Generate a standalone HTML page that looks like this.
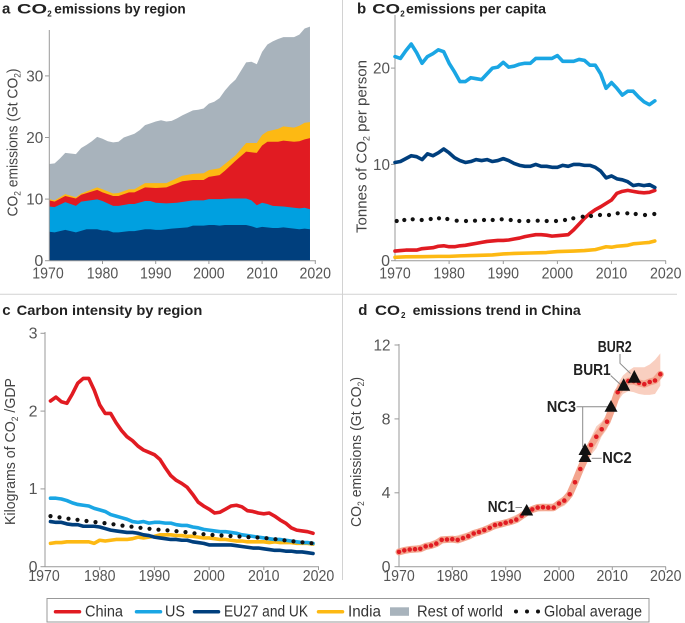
<!DOCTYPE html>
<html><head><meta charset="utf-8"><style>
html,body{margin:0;padding:0;background:#fff;}
svg{display:block;font-family:"Liberation Sans",sans-serif;}
.tk{font-size:16px;fill:#555;}
.ttl{font-size:14px;font-weight:bold;fill:#222;}
.yl{font-size:15px;fill:#444;}
.lg{font-size:15.5px;fill:#333;}
.ann{font-size:15.5px;font-weight:bold;fill:#222;}
</style></head><body>
<svg width="685" height="623" viewBox="0 0 685 623" xmlns="http://www.w3.org/2000/svg">
<rect width="685" height="623" fill="#fff"/>
<!-- separators -->
<line x1="342.5" y1="0" x2="342.5" y2="580" stroke="#d2d2d2" stroke-width="1"/>
<line x1="0" y1="294.3" x2="677" y2="294.3" stroke="#d2d2d2" stroke-width="1"/>

<!-- ===== Panel a ===== -->
<text class="ttl" x="2" y="13.5" style="font-size:15px">a</text>
<text class="ttl" x="17" y="13.5" textLength="30" lengthAdjust="spacingAndGlyphs">CO</text>
<text class="ttl" x="47.3" y="16.5" style="font-size:8px">2</text>
<text class="ttl" x="54.3" y="13.5" textLength="131.4" lengthAdjust="spacingAndGlyphs">emissions by region</text>

<g transform="translate(49.3 260.7) scale(5.32 -6.16)">
<path fill="#a8b3bc" d="M0,0 L0,15.7 1,15.8 2,16.6 3,17.5 4,17.4 5,17.3 6,18.3 7,18.8 8,19.4 9,20.1 10,19.8 11,19.4 12,19.2 13,19.3 14,20.0 15,20.3 16,20.6 17,21.2 18,22.0 19,22.3 20,22.6 21,22.8 22,22.6 23,22.7 24,23.1 25,23.6 26,24.0 27,24.4 28,24.5 29,24.7 30,25.5 31,25.8 32,26.4 33,27.6 34,28.6 35,29.4 36,30.8 37,32.2 38,32.3 39,31.9 40,33.9 41,35.1 42,35.6 43,36.0 44,36.3 45,36.3 46,36.3 47,36.7 48,37.7 49,38.0 L49,0 Z"/>
<path fill="#fdb913" d="M0,0 L0,10.0 1,9.8 3,10.8 5,10.3 6,10.9 9,11.9 10,11.6 12,10.9 13,11.0 15,11.6 16,11.6 18,12.6 20,12.6 22,12.6 25,13.8 27,14.1 29,14.2 30,14.7 32,15.0 33,15.7 35,17.1 37,19.1 39,19.1 40,20.4 41,21.0 43,21.4 44,21.8 46,21.6 47,21.9 48,22.4 49,22.5 L49,0 Z"/>
<path fill="#e11b22" d="M0,0 L0,9.8 1,9.6 3,10.5 5,10.1 6,10.7 9,11.5 10,11.1 12,10.5 13,10.5 15,11.1 16,11.1 18,11.9 20,11.8 22,11.9 25,12.9 27,13.1 29,13.1 30,13.6 32,13.9 33,14.6 35,16.2 37,17.7 39,17.5 40,18.7 41,19.3 43,19.3 44,19.5 46,19.3 47,19.4 48,19.7 49,19.9 L49,0 Z"/>
<path fill="#00a0e0" d="M0,0 L0,8.8 1,8.7 3,9.5 5,8.9 6,9.6 9,9.95 10,9.7 12,8.9 13,8.9 15,9.2 16,9.2 18,9.7 19,9.7 20,9.4 22,9.3 24,9.4 27,9.8 29,9.8 30,10.0 32,10.0 34,10.1 37,10.1 38,9.8 39,9.0 40,9.4 41,9.2 42,8.9 44,8.8 46,8.6 47,8.5 48,8.6 49,8.35 L49,0 Z"/>
<path fill="#003f7d" d="M0,0 L0,4.7 1,4.6 3,5.0 5,4.6 7,5.1 9,5.1 10,4.9 11,4.9 12,4.6 13,4.6 15,4.8 16,4.8 18,5.1 19,5.1 20,5.0 21,5.0 23,5.2 26,5.4 27,5.7 29,5.7 30,5.8 31,5.8 32,5.7 33,5.8 37,5.8 38,5.6 39,5.3 40,5.5 42,5.3 43,5.3 44,5.4 46,5.2 47,5.1 48,5.2 49,5.1 L49,0 Z"/>
</g>
<g stroke="#999" stroke-width="1" fill="none">
<line x1="49.3" y1="30" x2="49.3" y2="261"/>
<line x1="49.3" y1="260.7" x2="316" y2="260.7"/>
<line x1="45" y1="260.7" x2="49.3" y2="260.7"/><line x1="45" y1="199.1" x2="49.3" y2="199.1"/><line x1="45" y1="137.5" x2="49.3" y2="137.5"/><line x1="45" y1="75.9" x2="49.3" y2="75.9"/>
<line x1="102.5" y1="260.7" x2="102.5" y2="264"/><line x1="155.7" y1="260.7" x2="155.7" y2="264"/><line x1="208.9" y1="260.7" x2="208.9" y2="264"/><line x1="262.1" y1="260.7" x2="262.1" y2="264"/><line x1="315.3" y1="260.7" x2="315.3" y2="264"/>
</g>
<g class="tk" text-anchor="end">
<text x="43.3" y="266">0</text><text x="43.3" y="204.5" textLength="17" lengthAdjust="spacingAndGlyphs">10</text><text x="43.3" y="142.9" textLength="17" lengthAdjust="spacingAndGlyphs">20</text><text x="43.3" y="81.3" textLength="17" lengthAdjust="spacingAndGlyphs">30</text>
</g>
<g class="tk" text-anchor="middle">
<text x="48" y="278.5" textLength="31.5" lengthAdjust="spacingAndGlyphs">1970</text>
<text x="102.5" y="278.5" textLength="31.5" lengthAdjust="spacingAndGlyphs">1980</text>
<text x="155.7" y="278.5" textLength="31.5" lengthAdjust="spacingAndGlyphs">1990</text>
<text x="208.9" y="278.5" textLength="31.5" lengthAdjust="spacingAndGlyphs">2000</text>
<text x="262.1" y="278.5" textLength="31.5" lengthAdjust="spacingAndGlyphs">2010</text>
<text x="315.3" y="278.5" textLength="31.5" lengthAdjust="spacingAndGlyphs">2020</text>
</g>
<text class="yl" transform="translate(17.5 142.5) rotate(-90)" text-anchor="middle" textLength="148" lengthAdjust="spacingAndGlyphs">CO<tspan style="font-size:9px" dy="3">2</tspan><tspan dy="-3"> emissions (Gt CO</tspan><tspan style="font-size:9px" dy="3">2</tspan><tspan dy="-3">)</tspan></text>

<!-- ===== Panel b ===== -->
<text class="ttl" x="357" y="13.5" style="font-size:15px">b</text>
<text class="ttl" x="372.3" y="13.5" textLength="27.7" lengthAdjust="spacingAndGlyphs">CO</text>
<text class="ttl" x="400.3" y="16.5" style="font-size:8px">2</text>
<text class="ttl" x="406" y="13.5" textLength="140" lengthAdjust="spacingAndGlyphs">emissions per capita</text>

<g stroke="#999" stroke-width="1" fill="none">
<line x1="395" y1="15" x2="395" y2="261"/>
<line x1="395" y1="260.7" x2="666" y2="260.7"/>
<line x1="391" y1="260.7" x2="395" y2="260.7"/><line x1="391" y1="164.4" x2="395" y2="164.4"/><line x1="391" y1="68.1" x2="395" y2="68.1"/>
<line x1="449.1" y1="260.7" x2="449.1" y2="264"/><line x1="503.3" y1="260.7" x2="503.3" y2="264"/><line x1="557.4" y1="260.7" x2="557.4" y2="264"/><line x1="611.5" y1="260.7" x2="611.5" y2="264"/><line x1="665.7" y1="260.7" x2="665.7" y2="264"/>
</g>
<g class="tk" text-anchor="end">
<text x="390" y="266">0</text><text x="390" y="169.8" textLength="17" lengthAdjust="spacingAndGlyphs">10</text><text x="390" y="73.5" textLength="17" lengthAdjust="spacingAndGlyphs">20</text>
</g>
<g class="tk" text-anchor="middle">
<text x="395" y="278.5" textLength="31.5" lengthAdjust="spacingAndGlyphs">1970</text>
<text x="449.1" y="278.5" textLength="31.5" lengthAdjust="spacingAndGlyphs">1980</text>
<text x="503.3" y="278.5" textLength="31.5" lengthAdjust="spacingAndGlyphs">1990</text>
<text x="557.4" y="278.5" textLength="31.5" lengthAdjust="spacingAndGlyphs">2000</text>
<text x="611.5" y="278.5" textLength="31.5" lengthAdjust="spacingAndGlyphs">2010</text>
<text x="665.7" y="278.5" textLength="31.5" lengthAdjust="spacingAndGlyphs">2020</text>
</g>
<text class="yl" transform="translate(366.5 146.5) rotate(-90)" text-anchor="middle" textLength="173" lengthAdjust="spacingAndGlyphs">Tonnes of CO<tspan style="font-size:9px" dy="3">2</tspan><tspan dy="-3"> per person</tspan></text>

<g transform="translate(395 260.7) scale(5.413 -9.63)" fill="none" stroke-width="3.6" stroke-linejoin="round" stroke-linecap="round">
<polyline vector-effect="non-scaling-stroke" stroke="#fdb913" points="0,0.35 2,0.4 5,0.42 8,0.45 10,0.45 12,0.5 15,0.55 18,0.6 20,0.7 22,0.75 25,0.8 28,0.85 30,0.95 33,1.0 35,1.05 37,1.15 38,1.3 39,1.45 40,1.4 41,1.5 42,1.55 43,1.6 44,1.75 45,1.8 46,1.85 47,1.9 48,2.05"/>
<polyline vector-effect="non-scaling-stroke" stroke="#e11b22" points="0,1.0 1,1.05 2,1.1 3,1.1 4,1.1 5,1.25 6,1.3 7,1.35 8,1.5 9,1.55 10,1.45 11,1.45 12,1.55 13,1.6 14,1.7 15,1.8 16,1.9 17,2.0 18,2.05 19,2.1 20,2.1 21,2.15 22,2.25 23,2.35 24,2.5 25,2.6 26,2.7 27,2.7 28,2.65 29,2.55 30,2.6 31,2.65 32,2.7 33,3.2 34,3.8 35,4.4 36,4.9 37,5.3 38,5.6 39,5.95 40,6.3 41,7.0 42,7.2 43,7.3 44,7.2 45,7.1 46,7.05 47,7.1 48,7.3"/>
<polyline vector-effect="non-scaling-stroke" stroke="#003f7d" points="0,10.2 1,10.3 2,10.6 3,10.9 4,10.8 5,10.5 6,11.1 7,10.9 8,11.2 9,11.6 10,11.2 11,10.7 12,10.4 13,10.2 14,10.3 15,10.5 16,10.4 17,10.5 18,10.3 19,10.4 20,10.6 21,10.4 22,10.1 23,9.9 24,9.8 25,9.8 26,10.0 27,9.8 28,9.8 29,9.7 30,9.7 31,9.9 32,9.8 33,10.0 34,10.0 35,9.9 36,9.9 37,9.7 38,9.3 39,8.6 40,8.8 41,8.5 42,8.4 43,8.2 44,7.8 45,7.9 46,7.8 47,7.9 48,7.6"/>
<polyline vector-effect="non-scaling-stroke" stroke="#1aa6e4" points="0,21.2 1,21.0 2,21.8 3,22.5 4,21.6 5,20.5 6,21.2 7,21.5 8,21.9 9,21.7 10,20.5 11,19.6 12,18.6 13,18.6 14,19.0 15,18.9 16,18.8 17,19.4 18,20.0 19,20.1 20,20.6 21,20.1 22,20.2 23,20.4 24,20.5 25,20.5 26,21.0 27,21.0 28,21.0 29,21.0 30,21.3 31,20.7 32,20.7 33,20.7 34,20.9 35,20.8 36,20.3 37,20.3 38,19.4 39,17.9 40,18.5 41,17.9 42,17.2 43,17.6 44,17.6 45,17.0 46,16.5 47,16.2 48,16.6"/>
</g>
<g fill="#111">
<circle cx="396.7" cy="221" r="2.1"/><circle cx="404.3" cy="220" r="2.1"/><circle cx="412.7" cy="219.3" r="2.1"/><circle cx="421.7" cy="220" r="2.1"/><circle cx="430.7" cy="219" r="2.1"/><circle cx="439" cy="218.3" r="2.1"/><circle cx="447.3" cy="219" r="2.1"/><circle cx="456.7" cy="220.7" r="2.1"/><circle cx="466" cy="221" r="2.1"/><circle cx="475" cy="220.7" r="2.1"/><circle cx="484" cy="220" r="2.1"/><circle cx="492.7" cy="220" r="2.1"/><circle cx="501.7" cy="219.3" r="2.1"/><circle cx="510.7" cy="220" r="2.1"/><circle cx="519.3" cy="221" r="2.1"/><circle cx="528.3" cy="221" r="2.1"/><circle cx="537.7" cy="220.7" r="2.1"/><circle cx="546.7" cy="221" r="2.1"/><circle cx="556" cy="221" r="2.1"/><circle cx="565" cy="220" r="2.1"/><circle cx="573.3" cy="218.3" r="2.1"/><circle cx="582.7" cy="216.7" r="2.1"/><circle cx="591" cy="216" r="2.1"/><circle cx="600" cy="215" r="2.1"/><circle cx="609" cy="215" r="2.1"/><circle cx="617.7" cy="213.3" r="2.1"/><circle cx="627.3" cy="213.3" r="2.1"/><circle cx="635.7" cy="214" r="2.1"/><circle cx="645" cy="215" r="2.1"/><circle cx="654.3" cy="214" r="2.1"/>
</g>

<!-- ===== Panel c ===== -->
<text class="ttl" x="2.3" y="315" style="font-size:15px">c</text>
<text class="ttl" x="16.7" y="315" textLength="185.6" lengthAdjust="spacingAndGlyphs">Carbon intensity by region</text>

<g stroke="#999" stroke-width="1" fill="none">
<line x1="45" y1="332" x2="45" y2="567"/>
<line x1="45" y1="566.7" x2="319" y2="566.7"/>
<line x1="40.5" y1="566.7" x2="45" y2="566.7"/><line x1="40.5" y1="488.9" x2="45" y2="488.9"/><line x1="40.5" y1="411.1" x2="45" y2="411.1"/><line x1="40.5" y1="333.3" x2="45" y2="333.3"/>
<line x1="99.7" y1="566.7" x2="99.7" y2="570"/><line x1="154.4" y1="566.7" x2="154.4" y2="570"/><line x1="209.1" y1="566.7" x2="209.1" y2="570"/><line x1="263.8" y1="566.7" x2="263.8" y2="570"/><line x1="318.5" y1="566.7" x2="318.5" y2="570"/>
</g>
<g class="tk" text-anchor="end">
<text x="37.5" y="572">0</text><text x="37.5" y="494.2">1</text><text x="37.5" y="416.4">2</text><text x="37.5" y="338.6">3</text>
</g>
<g class="tk" text-anchor="middle">
<text x="44" y="581" textLength="31.5" lengthAdjust="spacingAndGlyphs">1970</text>
<text x="99.7" y="581" textLength="31.5" lengthAdjust="spacingAndGlyphs">1980</text>
<text x="154.4" y="581" textLength="31.5" lengthAdjust="spacingAndGlyphs">1990</text>
<text x="209.1" y="581" textLength="31.5" lengthAdjust="spacingAndGlyphs">2000</text>
<text x="263.8" y="581" textLength="31.5" lengthAdjust="spacingAndGlyphs">2010</text>
<text x="318.5" y="581" textLength="31.5" lengthAdjust="spacingAndGlyphs">2020</text>
</g>
<text class="yl" transform="translate(15 451.5) rotate(-90)" text-anchor="middle" textLength="147" lengthAdjust="spacingAndGlyphs">Kilograms of CO<tspan style="font-size:9px" dy="3">2</tspan><tspan dy="-3"> /GDP</tspan></text>

<g transform="translate(45 566.7) scale(5.47 -77.8)" fill="none" stroke-width="3.6" stroke-linejoin="round" stroke-linecap="round">
<polyline vector-effect="non-scaling-stroke" stroke="#fdb913" points="1,0.30 2,0.31 3,0.31 4,0.32 5,0.32 6,0.32 7,0.32 8,0.32 9,0.30 10,0.34 11,0.33 12,0.34 13,0.35 14,0.35 15,0.35 16,0.36 17,0.38 18,0.37 19,0.38 20,0.39 21,0.41 22,0.41 23,0.41 24,0.40 25,0.40 26,0.39 27,0.39 28,0.38 29,0.37 30,0.37 31,0.36 32,0.35 33,0.35 34,0.34 35,0.33 36,0.33 37,0.32 38,0.32 39,0.32 40,0.32 41,0.31 42,0.32 43,0.31 44,0.31 45,0.31 46,0.30 47,0.30 48,0.30 49,0.29"/>
<polyline vector-effect="non-scaling-stroke" stroke="#003f7d" points="1,0.58 2,0.57 3,0.57 4,0.55 5,0.54 6,0.54 7,0.52 8,0.52 9,0.52 10,0.51 11,0.49 12,0.47 13,0.46 14,0.45 15,0.44 16,0.44 17,0.43 18,0.41 19,0.40 20,0.38 21,0.37 22,0.36 23,0.35 24,0.35 25,0.34 26,0.34 27,0.32 28,0.31 29,0.30 30,0.28 31,0.28 32,0.28 33,0.28 34,0.28 35,0.27 36,0.26 37,0.25 38,0.24 39,0.24 40,0.23 41,0.22 42,0.21 43,0.21 44,0.20 45,0.20 46,0.19 47,0.19 48,0.18 49,0.17"/>
<polyline vector-effect="non-scaling-stroke" stroke="#1aa6e4" points="1,0.88 2,0.88 3,0.87 4,0.85 5,0.82 6,0.80 7,0.79 8,0.78 9,0.75 10,0.73 11,0.71 12,0.67 13,0.65 14,0.63 15,0.61 16,0.58 17,0.57 18,0.58 19,0.56 20,0.57 21,0.57 22,0.56 23,0.56 24,0.54 25,0.53 26,0.53 27,0.51 28,0.50 29,0.48 30,0.47 31,0.46 32,0.45 33,0.45 34,0.44 35,0.43 36,0.41 37,0.40 38,0.39 39,0.38 40,0.37 41,0.36 42,0.35 43,0.35 44,0.34 45,0.33 46,0.32 47,0.31 48,0.31 49,0.30"/>
<polyline vector-effect="non-scaling-stroke" stroke="#e11b22" points="1,2.13 2,2.18 3,2.12 4,2.10 5,2.22 6,2.36 7,2.42 8,2.42 9,2.27 10,2.08 11,1.97 12,1.97 13,1.85 14,1.75 15,1.67 16,1.62 17,1.55 18,1.50 19,1.47 20,1.44 21,1.38 22,1.27 23,1.17 24,1.11 25,1.07 26,1.02 27,0.93 28,0.83 29,0.78 30,0.74 31,0.69 32,0.70 33,0.74 34,0.78 35,0.79 36,0.77 37,0.72 38,0.71 39,0.69 40,0.68 41,0.69 42,0.65 43,0.60 44,0.56 45,0.50 46,0.47 47,0.46 48,0.45 49,0.43"/>
</g>
<g fill="#111">
<circle cx="50.5" cy="516.1" r="2.1"/><circle cx="59.5" cy="517.4" r="2.1"/><circle cx="68.5" cy="518.7" r="2.1"/><circle cx="77.5" cy="519.8" r="2.1"/><circle cx="86.5" cy="521" r="2.1"/><circle cx="95.5" cy="522.1" r="2.1"/><circle cx="104.5" cy="523.1" r="2.1"/><circle cx="113.5" cy="524.3" r="2.1"/><circle cx="122.5" cy="525.6" r="2.1"/><circle cx="131.5" cy="526.7" r="2.1"/><circle cx="140.5" cy="527.8" r="2.1"/><circle cx="149.5" cy="528.8" r="2.1"/><circle cx="158.5" cy="529.7" r="2.1"/><circle cx="167.5" cy="530.4" r="2.1"/><circle cx="176.5" cy="531.2" r="2.1"/><circle cx="185.5" cy="532.1" r="2.1"/><circle cx="194.5" cy="533.3" r="2.1"/><circle cx="203.5" cy="534.2" r="2.1"/><circle cx="212.5" cy="535" r="2.1"/><circle cx="221.5" cy="535.5" r="2.1"/><circle cx="230.5" cy="536" r="2.1"/><circle cx="239.5" cy="536.5" r="2.1"/><circle cx="248.5" cy="537.1" r="2.1"/><circle cx="257.5" cy="537.5" r="2.1"/><circle cx="266.5" cy="538.2" r="2.1"/><circle cx="275.5" cy="539.2" r="2.1"/><circle cx="284.5" cy="540.3" r="2.1"/><circle cx="293.5" cy="541.4" r="2.1"/><circle cx="302.5" cy="542.3" r="2.1"/><circle cx="311.5" cy="543.2" r="2.1"/>
</g>

<!-- ===== Panel d ===== -->
<text class="ttl" x="358.3" y="315" style="font-size:15px">d</text>
<text class="ttl" x="375" y="315" textLength="25" lengthAdjust="spacingAndGlyphs">CO</text>
<text class="ttl" x="401" y="318" style="font-size:8px">2</text>
<text class="ttl" x="412.7" y="315" textLength="168" lengthAdjust="spacingAndGlyphs">emissions trend in China</text>

<g stroke="#999" stroke-width="1" fill="none">
<line x1="399" y1="344" x2="399" y2="567"/>
<line x1="399" y1="566.7" x2="666" y2="566.7"/>
<line x1="394.5" y1="566.7" x2="399" y2="566.7"/><line x1="394.5" y1="492.8" x2="399" y2="492.8"/><line x1="394.5" y1="418.9" x2="399" y2="418.9"/><line x1="394.5" y1="345" x2="399" y2="345"/>
<line x1="452.3" y1="566.7" x2="452.3" y2="570"/><line x1="505.7" y1="566.7" x2="505.7" y2="570"/><line x1="559" y1="566.7" x2="559" y2="570"/><line x1="612.3" y1="566.7" x2="612.3" y2="570"/><line x1="665.7" y1="566.7" x2="665.7" y2="570"/>
</g>
<g class="tk" text-anchor="end">
<text x="390.5" y="572">0</text><text x="390.5" y="498.2">4</text><text x="390.5" y="424.3">8</text><text x="390.5" y="350.4" textLength="17" lengthAdjust="spacingAndGlyphs">12</text>
</g>
<g class="tk" text-anchor="middle">
<text x="399" y="581" textLength="31.5" lengthAdjust="spacingAndGlyphs">1970</text>
<text x="452.3" y="581" textLength="31.5" lengthAdjust="spacingAndGlyphs">1980</text>
<text x="505.7" y="581" textLength="31.5" lengthAdjust="spacingAndGlyphs">1990</text>
<text x="559" y="581" textLength="31.5" lengthAdjust="spacingAndGlyphs">2000</text>
<text x="612.3" y="581" textLength="31.5" lengthAdjust="spacingAndGlyphs">2010</text>
<text x="665.7" y="581" textLength="31.5" lengthAdjust="spacingAndGlyphs">2020</text>
</g>
<text class="yl" transform="translate(361 452) rotate(-90)" text-anchor="middle" textLength="150" lengthAdjust="spacingAndGlyphs">CO<tspan style="font-size:9px" dy="3">2</tspan><tspan dy="-3"> emissions (Gt CO</tspan><tspan style="font-size:9px" dy="3">2</tspan><tspan dy="-3">)</tspan></text>

<g transform="translate(399 566.7) scale(5.333 -18.47)">
<path fill="#f9cfc0" d="M0,0.95 L5,1.25 8,1.6 10,1.62 15,2.03 20,2.55 23,2.95 24,3.15 25,3.3 26,3.4 29,3.42 30,3.65 31,3.85 32,4.25 33,4.95 34,5.75 35,6.4 36,7.0 37,7.6 38,7.85 39,8.25 40,9.05 41,9.9 42,10.35 43,10.6 44,10.8 45,10.8 46,10.8 47,10.95 48,11.2 49,11.55 L49,9.8 48,9.35 47,9.3 46,9.3 45,9.35 44,9.45 43,9.5 42,9.35 41,8.95 40,8.15 39,7.45 38,7.05 37,6.4 36,6.05 35,5.45 34,4.8 33,4.15 32,3.6 31,3.3 30,3.18 29,3.0 26,2.98 25,2.9 24,2.75 23,2.55 20,2.2 15,1.75 10,1.38 8,1.3 5,0.95 0,0.65 Z"/>
<polyline vector-effect="non-scaling-stroke" fill="none" stroke="#f3a58e" stroke-width="7" stroke-linejoin="round" stroke-linecap="round" points="0,0.80 1,0.88 2,0.93 3,0.95 4,0.97 5,1.10 6,1.15 7,1.25 8,1.45 9,1.47 10,1.49 11,1.45 12,1.55 13,1.65 14,1.80 15,1.88 16,1.98 17,2.10 18,2.25 19,2.30 20,2.38 21,2.45 22,2.55 23,2.75 24,2.95 25,3.10 26,3.20 27,3.22 28,3.20 29,3.20 30,3.42 31,3.58 32,3.92 33,4.57 34,5.29 35,5.95 36,6.59 37,7.04 38,7.44 39,7.85 40,8.60 41,9.45 42,9.85 43,10.05 44,10.05 45,9.95 46,9.88 47,10.0 48,10.08 49,10.42"/>
</g>
<g fill="#e11b22">
<circle cx="399" cy="551.9" r="2.3"/><circle cx="404.3" cy="550.4" r="2.3"/><circle cx="409.7" cy="549.5" r="2.3"/><circle cx="415" cy="549.2" r="2.3"/><circle cx="420.3" cy="548.8" r="2.3"/><circle cx="425.7" cy="546.4" r="2.3"/><circle cx="431" cy="545.5" r="2.3"/><circle cx="436.3" cy="543.6" r="2.3"/><circle cx="441.7" cy="539.9" r="2.3"/><circle cx="447" cy="539.5" r="2.3"/><circle cx="452.3" cy="539.2" r="2.3"/><circle cx="457.7" cy="539.9" r="2.3"/><circle cx="463" cy="538.1" r="2.3"/><circle cx="468.3" cy="536.2" r="2.3"/><circle cx="473.7" cy="533.5" r="2.3"/><circle cx="479" cy="532" r="2.3"/><circle cx="484.3" cy="530.1" r="2.3"/><circle cx="489.7" cy="527.9" r="2.3"/><circle cx="495" cy="525.1" r="2.3"/><circle cx="500.3" cy="524.2" r="2.3"/><circle cx="505.7" cy="522.7" r="2.3"/><circle cx="511" cy="521.4" r="2.3"/><circle cx="516.3" cy="519.6" r="2.3"/><circle cx="521.7" cy="515.9" r="2.3"/><circle cx="527" cy="512.2" r="2.3"/><circle cx="532.3" cy="509.4" r="2.3"/><circle cx="537.7" cy="507.6" r="2.3"/><circle cx="543" cy="507.2" r="2.3"/><circle cx="548.3" cy="507.6" r="2.3"/><circle cx="553.7" cy="507.6" r="2.3"/><circle cx="559" cy="503.5" r="2.3"/><circle cx="564.3" cy="500.6" r="2.3"/><circle cx="569.7" cy="494.3" r="2.3"/><circle cx="575" cy="482.3" r="2.3"/><circle cx="580.3" cy="469" r="2.3"/><circle cx="585.7" cy="456.8" r="2.3"/><circle cx="591" cy="445" r="2.3"/><circle cx="596.3" cy="436.7" r="2.3"/><circle cx="601.7" cy="429.3" r="2.3"/><circle cx="607" cy="421.7" r="2.3"/><circle cx="612.3" cy="407.9" r="2.3"/><circle cx="617.7" cy="392.2" r="2.3"/><circle cx="623" cy="384.8" r="2.3"/><circle cx="628.3" cy="381.1" r="2.3"/><circle cx="633.7" cy="381.1" r="2.3"/><circle cx="639" cy="382.9" r="2.3"/><circle cx="644.3" cy="384.2" r="2.3"/><circle cx="649.7" cy="382" r="2.3"/><circle cx="655" cy="380.5" r="2.3"/><circle cx="660.3" cy="374.2" r="2.3"/>
</g>
<!-- leader lines -->
<g stroke="#8a8a8a" stroke-width="1" fill="none">
<line x1="515.5" y1="507.5" x2="522" y2="507.5"/>
<line x1="591.7" y1="458.3" x2="601.7" y2="458.3"/>
<line x1="576.5" y1="406.7" x2="608" y2="406.7"/>
<line x1="582.7" y1="406.7" x2="582.7" y2="447"/>
<line x1="610.7" y1="375.5" x2="621" y2="385"/>
<polyline points="620,354 620,363.3 630.5,373.5"/>
</g>
<!-- triangles -->
<g fill="#111">
<path d="M520.2,515.5 L526.7,504 L533.2,515.5 Z"/>
<path d="M578.5,462 L585,450.5 L591.5,462 Z"/>
<path d="M578.5,455 L585,443 L591.5,455 Z"/>
<path d="M604.5,411.7 L611,400 L617.5,411.7 Z"/>
<path d="M617.2,390.7 L623.7,378.3 L630.2,390.7 Z"/>
<path d="M627.8,382.7 L634.3,370 L640.8,382.7 Z"/>
</g>
<g class="ann">
<text x="487.7" y="512" textLength="27.3" lengthAdjust="spacingAndGlyphs">NC1</text>
<text x="602.3" y="463" textLength="29.4" lengthAdjust="spacingAndGlyphs">NC2</text>
<text x="546.7" y="412" textLength="29.3" lengthAdjust="spacingAndGlyphs">NC3</text>
<text x="573.3" y="375" textLength="37.4" lengthAdjust="spacingAndGlyphs">BUR1</text>
<text x="597.7" y="352" textLength="34" lengthAdjust="spacingAndGlyphs">BUR2</text>
</g>

<!-- ===== Legend ===== -->
<rect x="47" y="598.5" width="602" height="23.5" fill="#fff" stroke="#999" stroke-width="1"/>
<g stroke-width="3.5" stroke-linecap="round">
<line x1="55.5" y1="611.7" x2="79.5" y2="611.7" stroke="#e11b22"/>
<line x1="136.5" y1="611.7" x2="160.5" y2="611.7" stroke="#1aa6e4"/>
<line x1="194.5" y1="611.7" x2="218.5" y2="611.7" stroke="#003f7d"/>
<line x1="318.5" y1="611.7" x2="342.5" y2="611.7" stroke="#fdb913"/>
</g>
<rect x="390" y="607.3" width="19" height="8.5" fill="#a8b3bc"/>
<g fill="#111"><circle cx="516" cy="611.5" r="2"/><circle cx="527" cy="611.5" r="2"/><circle cx="538" cy="611.5" r="2"/></g>
<g class="lg">
<text x="85" y="616.5" textLength="38" lengthAdjust="spacingAndGlyphs">China</text>
<text x="165" y="616.5" textLength="20" lengthAdjust="spacingAndGlyphs">US</text>
<text x="224" y="616.5" textLength="84" lengthAdjust="spacingAndGlyphs">EU27 and UK</text>
<text x="348" y="616.5" textLength="33" lengthAdjust="spacingAndGlyphs">India</text>
<text x="417" y="616.5" textLength="86" lengthAdjust="spacingAndGlyphs">Rest of world</text>
<text x="544" y="616.5" textLength="98" lengthAdjust="spacingAndGlyphs">Global average</text>
</g>
</svg>
</body></html>
